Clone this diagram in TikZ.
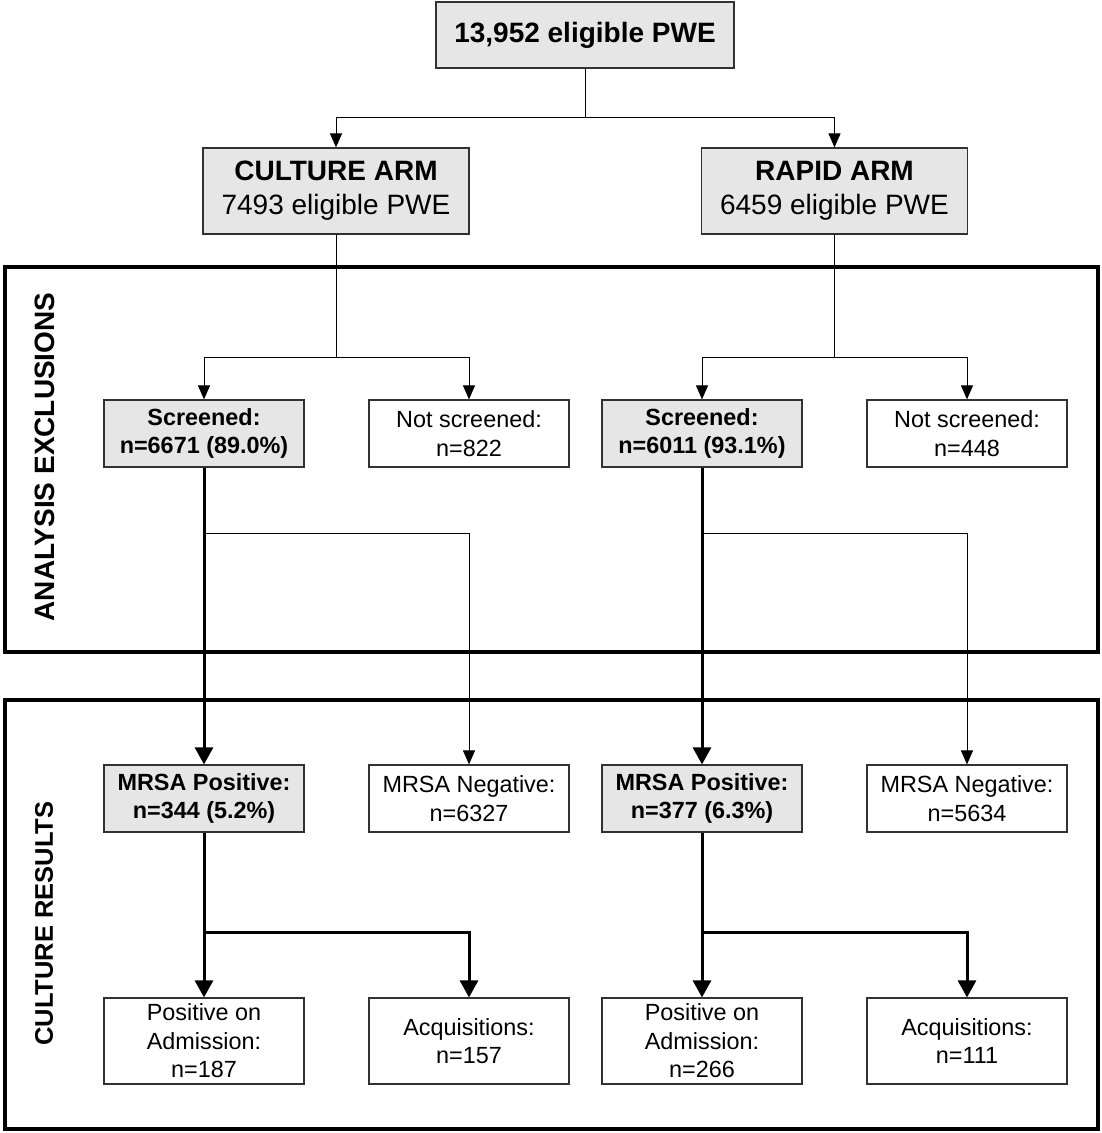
\documentclass[tikz,border=0pt]{standalone}
\usepackage{fontspec}
\setmainfont{Liberation Sans}
\usetikzlibrary{arrows.meta}
\definecolor{boxgray}{RGB}{230,230,230}
\definecolor{edgegray}{RGB}{50,50,50}
\begin{document}
\begin{tikzpicture}[x=1pt,y=-1pt,
  box/.style={draw=edgegray,line width=1.2pt,minimum width=200pt,minimum height=67pt,inner sep=0pt,align=center,font=\fontsize{23.4}{28.5}\selectfont},
  gbox/.style={box,fill=boxgray,font=\bfseries\fontsize{23.4}{28.5}\selectfont},
  tallbox/.style={box,minimum height=86pt},
  armbox/.style={box,fill=boxgray,minimum width=266pt,minimum height=86pt,font=\fontsize{28}{34}\selectfont},
  titlebox/.style={box,fill=boxgray,minimum width=298pt,minimum height=66pt,font=\bfseries\fontsize{28}{34}\selectfont},
  thinline/.style={line width=1pt},
  heavyline/.style={line width=3pt},
  tarrow/.style={line width=1pt,-{Triangle[length=14pt,width=12pt]}},
  harrow/.style={line width=3pt,-{Triangle[length=17pt,width=18pt]}},
  frameline/.style={line width=4pt},
  sidelabel/.style={rotate=90,font=\bfseries\fontsize{28}{32}\selectfont}
]
\useasboundingbox (0,0) rectangle (1101,1133);

% frames
\draw[frameline] (5,267) rectangle (1098,652);
\draw[frameline] (5,700) rectangle (1098,1129);
\node[sidelabel] (lab1) at (45,457) {ANALYSIS EXCLUSIONS};
\node[sidelabel,font=\bfseries\fontsize{25.5}{30}\selectfont] (lab2) at (44,923.5) {CULTURE RESULTS};

% nodes
\node[titlebox] (top) at (585,35) {13,952 eligible PWE};
\node[armbox] (cult) at (336,191) {\textbf{CULTURE ARM}\\7493 eligible PWE};
\node[armbox] (rapid) at (834.5,191) {\textbf{RAPID ARM}\\6459 eligible PWE};

\node[gbox] (scr1) at (204,433.5) {Screened:\\n=6671 (89.0\%)};
\node[box] (nsc1) at (469,433.5) {Not screened:\\n=822};
\node[gbox] (scr2) at (702,433.5) {Screened:\\n=6011 (93.1\%)};
\node[box] (nsc2) at (967,433.5) {Not screened:\\n=448};

\node[gbox] (pos1) at (204,798.5) {MRSA Positive:\\n=344 (5.2\%)};
\node[box] (neg1) at (469,798.5) {MRSA Negative:\\n=6327};
\node[gbox] (pos2) at (702,798.5) {MRSA Positive:\\n=377 (6.3\%)};
\node[box] (neg2) at (967,798.5) {MRSA Negative:\\n=5634};

\node[tallbox] (adm1) at (204,1041) {Positive on\\Admission:\\n=187};
\node[tallbox] (acq1) at (469,1041) {Acquisitions:\\n=157};
\node[tallbox] (adm2) at (702,1041) {Positive on\\Admission:\\n=266};
\node[tallbox] (acq2) at (967,1041) {Acquisitions:\\n=111};

% junctions
\coordinate (j0) at (585,117);
\coordinate (j1) at (336,357);
\coordinate (j2) at (834.5,357);
\coordinate (k1) at (204,533);
\coordinate (k2) at (702,533);
\coordinate (m1) at (204,932);
\coordinate (m2) at (702,932);

% connectors
\draw[thinline] (top.south) -- (j0);
\draw[tarrow] (j0) -| (cult.north);
\draw[tarrow] (j0) -| (rapid.north);

\draw[thinline] (cult.south) -- (j1);
\draw[tarrow] (j1) -| (scr1.north);
\draw[tarrow] (j1) -| (nsc1.north);
\draw[thinline] (rapid.south) -- (j2);
\draw[tarrow] (j2) -| (scr2.north);
\draw[tarrow] (j2) -| (nsc2.north);

\draw[harrow] (scr1.south) -- (pos1.north);
\draw[tarrow] (k1) -| (neg1.north);
\draw[harrow] (scr2.south) -- (pos2.north);
\draw[tarrow] (k2) -| (neg2.north);

\draw[heavyline] (pos1.south) -- (m1);
\draw[harrow] (m1) -- (adm1.north);
\draw[harrow] (m1) -| (acq1.north);
\draw[heavyline] (pos2.south) -- (m2);
\draw[harrow] (m2) -- (adm2.north);
\draw[harrow] (m2) -| (acq2.north);
\end{tikzpicture}
\end{document}
